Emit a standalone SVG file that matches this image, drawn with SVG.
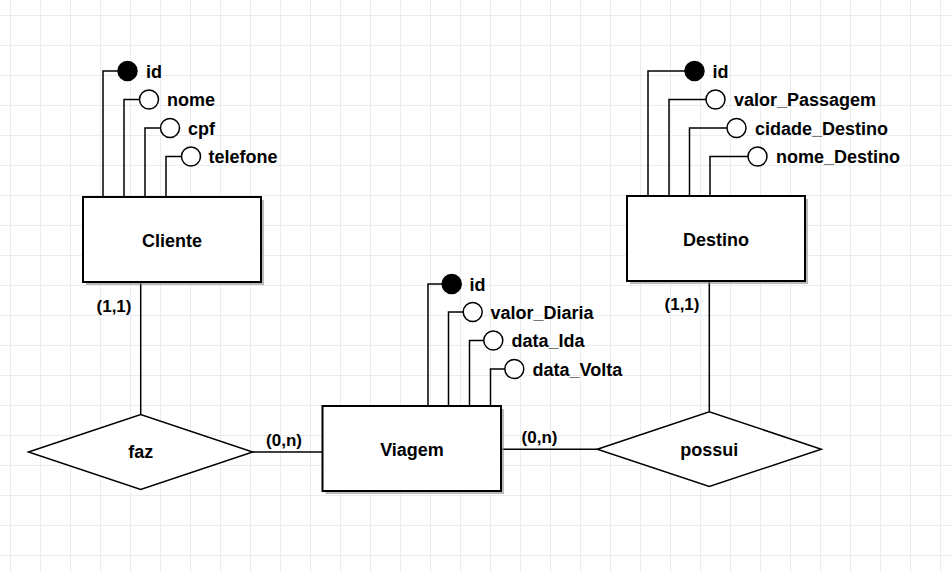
<svg xmlns="http://www.w3.org/2000/svg" width="952" height="572" viewBox="0 0 952 572">
<defs>
<pattern id="grid" x="10" y="15" width="30" height="30" patternUnits="userSpaceOnUse">
<path d="M0.5 0V30M0 0.5H30" stroke="#e9ecf1" stroke-width="1" fill="none"/>
</pattern>
</defs>
<style>
text{font-family:"Liberation Sans",Arial,sans-serif;font-weight:bold;fill:#000}
.attr{font-size:18px}
.ent{font-size:18px;text-anchor:middle}
.card{font-size:17px;text-anchor:middle}
.box{fill:#fff;stroke:#000;stroke-width:2}
.shadow{fill:#8c8c8c;opacity:0.6}
.dia{fill:#fff;stroke:#000;stroke-width:1.5}
.ln{fill:none;stroke:#000;stroke-width:1.5}
.pk{fill:#000;stroke:#000;stroke-width:1.5}
.at{fill:#fff;stroke:#000;stroke-width:1.5}
</style>
<rect width="952" height="572" fill="#fff"/>
<rect width="952" height="572" fill="url(#grid)"/>

<g id="connectors">
<path class="ln" d="M140.7 282V414.5"/>
<path class="ln" d="M252.7 452H322.5"/>
<path class="ln" d="M501 449.3H597.3"/>
<path class="ln" d="M709.3 281V411.7"/>
<text class="card" x="114" y="311.5">(1,1)</text>
<text class="card" x="284" y="445.5">(0,n)</text>
<text class="card" x="539.5" y="442.5">(0,n)</text>
<text class="card" x="682" y="309.5">(1,1)</text>
</g>

<g id="cliente">
<path class="ln" d="M103 197V71H118M124 197V99.5H139.5M145 197V128H160.5M166 197V156.5H181.5"/>
<circle class="pk" cx="127.5" cy="71" r="9.5"/>
<circle class="at" cx="149" cy="99.5" r="9.5"/>
<circle class="at" cx="170" cy="128" r="9.5"/>
<circle class="at" cx="191" cy="156.5" r="9.5"/>
<text class="attr" x="146" y="77.5">id</text>
<text class="attr" x="167" y="106">nome</text>
<text class="attr" x="188" y="134.5">cpf</text>
<text class="attr" x="208.5" y="163">telefone</text>
<rect class="shadow" x="86" y="200" width="178" height="85"/>
<rect class="box" x="83" y="197" width="178" height="85"/>
<text class="ent" x="172" y="246.5">Cliente</text>
</g>

<g id="destino">
<path class="ln" d="M648 196V71H685M669 196V99.5H706M689.5 196V128H727M710 196V156.5H748"/>
<circle class="pk" cx="694.5" cy="71" r="9.5"/>
<circle class="at" cx="715.5" cy="99.5" r="9.5"/>
<circle class="at" cx="736.5" cy="128" r="9.5"/>
<circle class="at" cx="757.5" cy="156.5" r="9.5"/>
<text class="attr" x="712.5" y="77.5">id</text>
<text class="attr" x="734" y="106">valor_Passagem</text>
<text class="attr" x="755" y="134.5">cidade_Destino</text>
<text class="attr" x="776" y="163">nome_Destino</text>
<rect class="shadow" x="630" y="199" width="178" height="85"/>
<rect class="box" x="627" y="196" width="178" height="85"/>
<text class="ent" x="716" y="245.5">Destino</text>
</g>

<g id="viagem">
<path class="ln" d="M428 406V284H442M448.5 406V312H463M469.5 406V340.5H484M490.5 406V369H505"/>
<circle class="pk" cx="451.7" cy="284" r="9.5"/>
<circle class="at" cx="472.7" cy="312" r="9.5"/>
<circle class="at" cx="493.3" cy="340.5" r="9.5"/>
<circle class="at" cx="514.3" cy="369" r="9.5"/>
<text class="attr" x="469.5" y="290.5">id</text>
<text class="attr" x="490.5" y="318.5">valor_Diaria</text>
<text class="attr" x="511.5" y="347">data_Ida</text>
<text class="attr" x="532.5" y="375.5">data_Volta</text>
<rect class="shadow" x="325.5" y="409" width="178.5" height="85"/>
<rect class="box" x="322.5" y="406" width="178.5" height="85"/>
<text class="ent" x="412" y="456">Viagem</text>
</g>

<g id="faz">
<polygon class="dia" points="28.5,452 140.7,414.5 252.7,452 140.7,489.5"/>
<text class="ent" x="140.7" y="458">faz</text>
</g>

<g id="possui">
<polygon class="dia" points="597.3,449.3 709.3,411.7 821.3,449.3 709.3,486.5"/>
<text class="ent" x="709.3" y="455.5">possui</text>
</g>
</svg>
